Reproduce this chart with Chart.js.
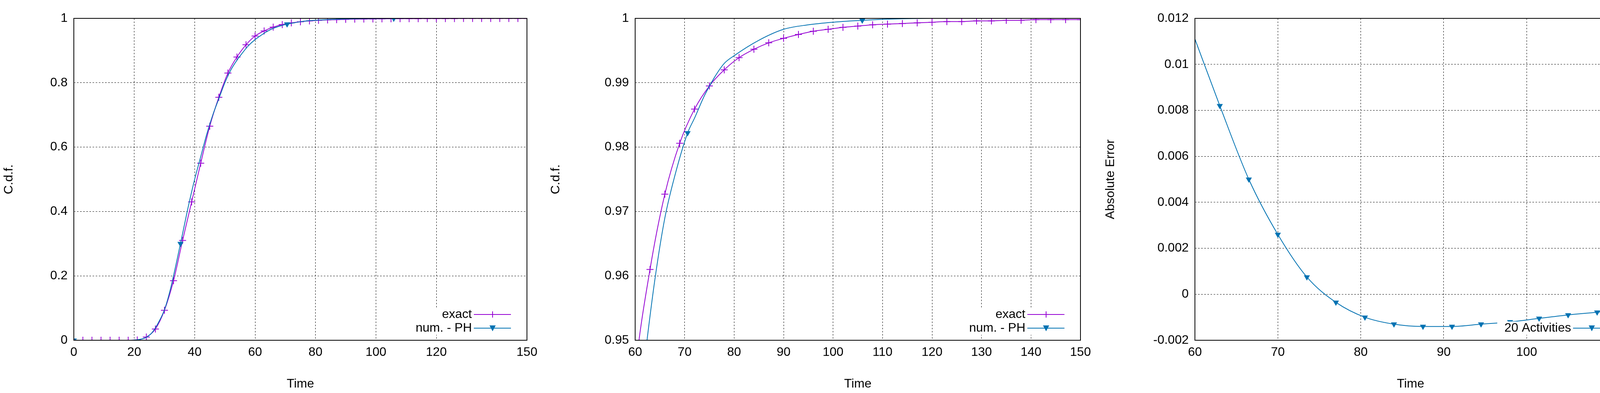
<!DOCTYPE html>
<html><head><meta charset="utf-8">
<script src="https://cdn.jsdelivr.net/npm/chart.js@4"></script>
<style>
html,body{margin:0;padding:0;background:#fff;}
.p{position:absolute;top:0;height:1006px;}
</style></head><body>
<div class="p" style="left:0;width:1400px"><canvas id="c1"></canvas></div>
<div class="p" style="left:1400px;width:1420px"><canvas id="c2"></canvas></div>
<div class="p" style="left:2820px;width:1400px"><canvas id="c3"></canvas></div>
<script>
const exactTimes = [0,3,6,9,12,15,18,21,24,27,30,33,36,39,42,45,48,51,54,57,60,63,66,69,72,75,78,81,84,87,90,93,96,99,102,105,108,111,114,117,120,123,126,129,132,135,138,141,144,147,150];
const exactCdf = [0,0,0,0,0,0,0,0.001,0.01,0.035,0.093,0.185,0.31,0.43,0.55,0.665,0.755,0.83,0.88,0.918,0.945,0.961,0.9727,0.9806,0.9859,0.9895,0.992,0.9939,0.9952,0.9962,0.9969,0.9975,0.998,0.9983,0.9986,0.9988,0.999,0.9991,0.9992,0.9993,0.9994,0.9995,0.9995,0.9996,0.9996,0.9997,0.9997,0.9998,0.9998,0.9998,0.9998];
const phTimes = [0,18,20,22,24,26,28,30,32,35.3,38,40,42,44,46,48,50,52,54,56,58,60,62,64,66,68,70.6,72,74,76,78,80,85,90,95,100,105.9,112,120,150];
const phCdf = [0,0,0.0005,0.003,0.009,0.025,0.055,0.095,0.16,0.3,0.42,0.5,0.57,0.64,0.7,0.75,0.8,0.84,0.87,0.895,0.917,0.934,0.9475,0.9595,0.969,0.9755,0.9822,0.9845,0.988,0.9908,0.993,0.9942,0.9966,0.9983,0.999,0.9994,0.9997,0.9999,1,1];
const phMarkTimes = [0,35.3,70.6,105.9];
const errTimes = [60,63,66.5,70,73.5,77,80.5,84,87.5,91,94.5,98,101.5,105,108.5,112];
const errValues = [0.0111,0.0082,0.005,0.0026,0.00075,-0.00035,-0.001,-0.0013,-0.0014,-0.0014,-0.0013,-0.0012,-0.00105,-0.0009,-0.00078,-0.00065];

const PURPLE='#9400d3', BLUE='#0072b2';
const FONT='"Liberation Sans", Arial, sans-serif';
const xy=(xs,ys)=>xs.map((x,i)=>({x:x,y:ys[i]}));
const fmt=v=>String(+Number(v).toFixed(4));

function legendPlugin(entries){
  return {id:'lg',afterDraw(c){
    const ctx=c.ctx,a=c.chartArea;
    ctx.save();
    const n=entries.length;
    entries.forEach((e,i)=>{
      const y=a.bottom-31-(n-1-i)*35;
      ctx.fillStyle='#fff';
      ctx.fillRect(a.right-330,y-17,320,34);
    });
    entries.forEach((e,i)=>{
      const y=a.bottom-31-(n-1-i)*35;
      ctx.font='32px '+FONT;ctx.fillStyle='#000';ctx.textAlign='right';ctx.textBaseline='middle';
      ctx.fillText(e.label,a.right-141,y);
      ctx.strokeStyle=e.color;ctx.lineWidth=2;
      ctx.beginPath();ctx.moveTo(a.right-136,y);ctx.lineTo(a.right-41,y);ctx.stroke();
      const mx=a.right-88;
      if(e.marker==='cross'){ctx.beginPath();ctx.moveTo(mx-8,y);ctx.lineTo(mx+8,y);ctx.moveTo(mx,y-8);ctx.lineTo(mx,y+8);ctx.stroke();}
      else{ctx.fillStyle=e.color;ctx.beginPath();ctx.moveTo(mx-8,y-7);ctx.lineTo(mx+8,y-7);ctx.lineTo(mx,y+8);ctx.closePath();ctx.fill();}
    });
    ctx.restore();
  }};
}
const borderPlugin={id:'bd',afterDatasetsDraw(c){const a=c.chartArea,ctx=c.ctx;ctx.save();ctx.strokeStyle='#000';ctx.lineWidth=2;ctx.strokeRect(a.left,a.top,a.right-a.left,a.bottom-a.top);ctx.restore();}};

function makeChart(id,datasets,xo,yo,yw,rp,yTitle,legend){
  return new Chart(document.getElementById(id),{
    type:'line',
    data:{datasets:datasets},
    options:{
      responsive:true,maintainAspectRatio:false,animation:false,
      layout:{padding:{top:47,right:rp,left:0,bottom:0}},
      plugins:{legend:{display:false},tooltip:{enabled:false}},
      scales:{
        x:{type:'linear',min:xo.min,max:xo.max,
          ticks:{stepSize:xo.step,font:{size:32,family:FONT},color:'#000',padding:12,maxRotation:0,autoSkip:false,callback:fmt},
          grid:{color:'#000',lineWidth:1,drawTicks:false},border:{display:false,dash:[4,4]},
          title:{display:true,text:'Time',font:{size:32,family:FONT},color:'#000',padding:{top:14}},
          afterFit(s){s.height=135;}},
        y:{min:yo.min,max:yo.max,
          ticks:{stepSize:yo.step,font:{size:32,family:FONT},color:'#000',padding:16,autoSkip:false,callback:fmt},
          grid:{color:'#000',lineWidth:1,drawTicks:false},border:{display:false,dash:[4,4]},
          title:{display:true,text:yTitle,font:{size:32,family:FONT},color:'#000'},
          afterFit(s){s.width=yw;}}
      },
      elements:{line:{borderWidth:2,cubicInterpolationMode:'monotone'}}
    },
    plugins:[legendPlugin(legend),borderPlugin]
  });
}
function exactDs(){return {label:'exact',data:xy(exactTimes,exactCdf),borderColor:PURPLE,backgroundColor:PURPLE,pointStyle:'cross',pointRadius:9,pointBorderWidth:2,pointBorderColor:PURPLE,fill:false};}
function phDs(){return {label:'num. - PH',data:xy(phTimes,phCdf),borderColor:BLUE,backgroundColor:BLUE,pointStyle:'triangle',rotation:180,
  pointRadius:ctx=>phMarkTimes.includes(phTimes[ctx.dataIndex])?9:0,pointBorderWidth:0,fill:false};}
const leg2=[{label:'exact',color:PURPLE,marker:'cross'},{label:'num. - PH',color:BLUE,marker:'tri'}];

makeChart('c1',[phDs(),exactDs()],{min:0,max:150,step:20},{min:0,max:1,step:0.2},189,51,'C.d.f.',leg2);
makeChart('c2',[phDs(),exactDs()],{min:60,max:150,step:10},{min:0.95,max:1,step:0.01},226,54,'C.d.f.',leg2);
makeChart('c3',[{label:'20 Activities',data:xy(errTimes,errValues),borderColor:BLUE,backgroundColor:BLUE,pointStyle:'triangle',rotation:180,
  pointRadius:ctx=>ctx.dataIndex===0?0:9,pointBorderWidth:0,fill:false}],
  {min:60,max:112,step:10},{min:-0.002,max:0.012,step:0.002},239,57,'Absolute Error',[{label:'20 Activities',color:BLUE,marker:'tri'}]);
</script>
</body></html>
